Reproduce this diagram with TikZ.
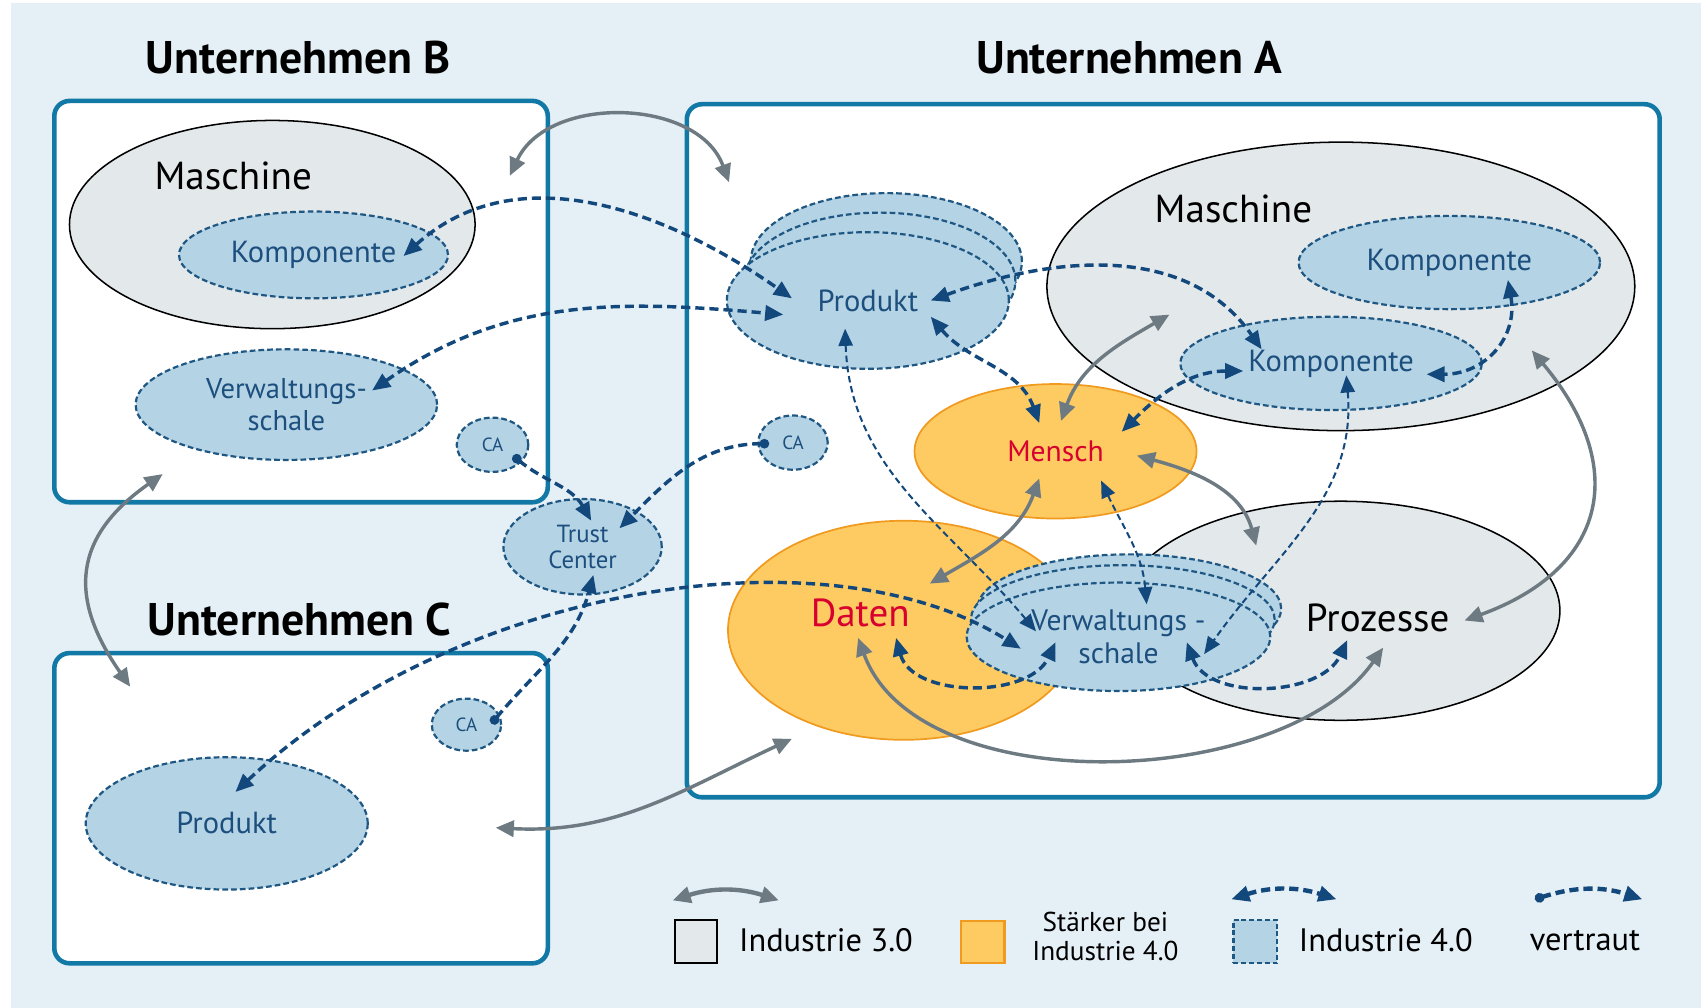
\documentclass[tikz,border=0pt]{standalone}
\usepackage{fontspec}
\setmainfont{PT Sans}
\usetikzlibrary{arrows.meta,shapes.geometric}
\definecolor{bgcol}{HTML}{E4EFF6}
\definecolor{boxcol}{HTML}{1279A6}
\definecolor{grayfill}{HTML}{E3E8EB}
\definecolor{lbfill}{HTML}{B4D3E5}
\definecolor{lbdraw}{HTML}{1F5783}
\definecolor{dbarrow}{HTML}{13487C}
\definecolor{grayarrow}{HTML}{6D7A82}
\definecolor{orangefill}{HTML}{FDCB61}
\definecolor{orangedraw}{HTML}{F09A20}
\definecolor{redtext}{HTML}{D7002F}
\definecolor{bluetext}{HTML}{1C4F7D}
\tikzset{
  comp/.style={draw=boxcol, line width=2.4pt, fill=white, rounded corners=8pt, inner sep=0pt},
  title/.style={font=\fontsize{24}{28}\selectfont\bfseries, text=black, inner sep=0pt},
  indthree/.style={ellipse, draw=black, line width=0.8pt, fill=grayfill, inner sep=0pt},
  indfour/.style={ellipse, draw=lbdraw, line width=1.15pt, dash pattern=on 3pt off 1.6pt, fill=lbfill, inner sep=0pt, text=bluetext, font=\fontsize{16}{18}\selectfont, align=center},
  strong/.style={ellipse, draw=orangedraw, line width=0.9pt, fill=orangefill, inner sep=0pt},
  bigtxt/.style={font=\fontsize{20.5}{24}\selectfont, inner sep=0pt},
  garrow/.style={draw=grayarrow, line width=1.8pt, {Triangle[length=9.5pt,width=8.5pt]}-{Triangle[length=9.5pt,width=8.5pt]}},
  darrow/.style={draw=dbarrow, line width=1.8pt, dash pattern=on 4.8pt off 2.6pt, {Triangle[length=9.5pt,width=8pt]}-{Triangle[length=9.5pt,width=8pt]}},
  thinarrow/.style={draw=dbarrow, line width=1.05pt, dash pattern=on 3.4pt off 2pt, {Triangle[length=9pt,width=7.5pt]}-{Triangle[length=9pt,width=7.5pt]}},
  trustarrow/.style={draw=dbarrow, line width=1.8pt, dash pattern=on 4.8pt off 2.6pt, {Circle[length=5pt]}-{Triangle[length=9.5pt,width=8pt]}},
  legtxt/.style={font=\fontsize{17}{20}\selectfont, inner sep=0pt},
}
\begin{document}
\begin{tikzpicture}[x=0.02cm, y=-0.02cm]
\useasboundingbox (0,0) rectangle (1568,929);
\fill[white] (0,0) rectangle (1568,929);
\fill[bgcol] (10,3) rectangle (1568,929);

% titles
\node[title] (tB) at (275,53) {Unternehmen B};
\node[title] (tA) at (1041,53) {Unternehmen A};
\node[title] (tC) at (276,571) {Unternehmen C};

% company boxes
\node[comp, minimum width=9.1cm, minimum height=7.4cm] (boxB) at (277.5,278) {};
\node[comp, minimum width=17.94cm, minimum height=12.78cm] (boxA) at (1081.5,415.5) {};
\node[comp, minimum width=9.1cm, minimum height=5.72cm] (boxC) at (277.5,745) {};

% company B
\node[indthree, minimum width=7.48cm, minimum height=3.84cm] (maschB) at (251,207) {};
\node[bigtxt] (maschBl) at (215,162) {Maschine};
\node[indfour, minimum width=4.96cm, minimum height=1.6cm] (kompB) at (289,235) {Komponente};
\node[indfour, minimum width=5.56cm, minimum height=2.04cm, font=\fontsize{15}{16.6}\selectfont] (vsB) at (264,373) {Verwaltungs-\\schale};
\node[indfour, minimum width=1.32cm, minimum height=1.0cm, font=\fontsize{10}{12}\selectfont] (caB) at (454,410) {CA};

% trust center
\node[indfour, minimum width=2.92cm, minimum height=1.76cm, font=\fontsize{13}{13.6}\selectfont] (trust) at (537,504) {Trust\\Center};

% company C
\node[indfour, minimum width=5.2cm, minimum height=2.44cm] (prodC) at (209,759) {Produkt};
\node[indfour, minimum width=1.28cm, minimum height=0.96cm, font=\fontsize{10}{12}\selectfont] (caC) at (430,668) {CA};

% company A
\node[indfour, minimum width=1.28cm, minimum height=1.0cm, font=\fontsize{10}{12}\selectfont] (caA) at (731,408) {CA};
\node[indthree, minimum width=10.84cm, minimum height=5.32cm] (maschA) at (1236,264) {};
\node[bigtxt] (maschAl) at (1137,193) {Maschine};
\node[indfour, minimum width=5.56cm, minimum height=1.72cm] (kompA1) at (1336,242) {Komponente};
\node[indfour, minimum width=5.56cm, minimum height=1.72cm] (kompA2) at (1227,335) {Komponente};
\node[indfour, minimum width=5.0cm, minimum height=2.52cm] (prodAb2) at (817,241) {};
\node[indfour, minimum width=5.0cm, minimum height=2.52cm] (prodAb1) at (811,259) {};
\node[indfour, minimum width=5.2cm, minimum height=2.52cm] (prodA) at (800,277) {Produkt};
\node[strong, minimum width=5.2cm, minimum height=2.48cm, text=redtext, font=\fontsize{15.5}{18}\selectfont] (mensch) at (973,416) {Mensch};
\node[strong, minimum width=6.48cm, minimum height=4.04cm] (daten) at (833,581) {};
\node[bigtxt, text=redtext] (datenl) at (793,565) {Daten};
\node[indthree, minimum width=8.08cm, minimum height=4.04cm] (proz) at (1236,563) {};
\node[bigtxt] (prozl) at (1270,570) {Prozesse};
\node[indfour, minimum width=5.6cm, minimum height=2.0cm] (vsAb2) at (1041,561) {};
\node[indfour, minimum width=5.6cm, minimum height=2.0cm] (vsAb1) at (1035,571) {};
\node[indfour, minimum width=5.6cm, minimum height=2.0cm, font=\fontsize{15.5}{17}\selectfont] (vsA) at (1031,587) {Verwaltungs -\\schale};

% Industrie 3.0 relations (grey)
\draw[garrow] ([shift={(192.5,-116)}]boxB.center) to[out=65,in=110,looseness=1.05] ([shift={(-409.5,-247.5)}]boxA.center);
\draw[garrow] ([shift={(-127.5,159)}]boxB.center) to[out=215,in=125,looseness=1.3] ([shift={(-157.5,-112)}]boxC.center);
\draw[garrow] ([shift={(179.5,18)}]boxC.center) to[out=-3,in=205] ([shift={(-351.5,265.5)}]boxA.center);
\draw[garrow] ([shift={(5,-28)}]mensch.center) to[out=70,in=210] ([shift={(-158,26)}]maschA.center);
\draw[garrow] ([shift={(-15,25)}]mensch.center) to[out=-110,in=30] ([shift={(24,-43)}]daten.center);
\draw[garrow] ([shift={(75,4)}]mensch.center) to[out=-15,in=105] ([shift={(-78,-60)}]proz.center);
\draw[garrow] ([shift={(176,59)}]maschA.center) to[out=-50,in=20,looseness=1.4] ([shift={(114,9)}]proz.center);
\draw[garrow] ([shift={(-42,7)}]daten.center) to[out=-70,in=-125,looseness=0.85] ([shift={(39,34)}]proz.center);

% Industrie 4.0 relations (dashed blue)
\draw[darrow] ([shift={(83,1)}]kompB.center) to[out=42,in=145] ([shift={(-70,-2)}]prodA.center);
\draw[darrow] ([shift={(79,-13)}]vsB.center) to[out=35,in=175] ([shift={(-78,13)}]prodA.center);
\draw[darrow] ([shift={(8,-29)}]prodC.center) .. controls +(203,-190) and +(-180,-113) .. ([shift={(-90,11)}]vsA.center);
\draw[darrow] ([shift={(58,0)}]prodA.center) to[out=20,in=125] ([shift={(-64,-13)}]kompA2.center);
\draw[darrow] ([shift={(58,15)}]prodA.center) to[out=-50,in=110] ([shift={(-15,-26)}]mensch.center);
\draw[thinarrow] ([shift={(-21,26)}]prodA.center) to[out=-88,in=130] ([shift={(-76,-5)}]vsA.center);
\draw[darrow] ([shift={(-81,7)}]kompA2.center) to[out=180,in=45] ([shift={(61,-18)}]mensch.center);
\draw[darrow] ([shift={(54,16)}]kompA1.center) to[out=-80,in=0,looseness=1.2] ([shift={(88,10)}]kompA2.center);
\draw[thinarrow] ([shift={(14,11)}]kompA2.center) to[out=-85,in=55] ([shift={(79,16)}]vsA.center);
\draw[thinarrow] ([shift={(42,27)}]mensch.center) to[out=-65,in=95] ([shift={(26,-30)}]vsA.center);
\draw[darrow] ([shift={(-7,7)}]daten.center) to[out=-75,in=-115] ([shift={(-58,5)}]vsA.center);
\draw[darrow] ([shift={(63,5)}]vsA.center) to[out=-70,in=-115] ([shift={(6,27)}]proz.center);

% trust relations
\draw[trustarrow] ([shift={(19,10)}]caB.center) to[out=-40,in=120] ([shift={(8,-24)}]trust.center);
\draw[trustarrow] ([shift={(-22,1)}]caA.center) to[out=180,in=45] ([shift={(34,-17)}]trust.center);
\draw[trustarrow] ([shift={(23,-1)}]caC.center) to[out=50,in=-105] ([shift={(10,26)}]trust.center);

% legend
\coordinate (l1a) at (620,830);
\coordinate (l1b) at (718,830);
\draw[garrow, line width=2.3pt] (l1a) to[bend left=18] (l1b);
\node[draw=black, line width=1.2pt, fill=grayfill, minimum width=0.78cm, minimum height=0.8cm, inner sep=0pt] (sq1) at (641.5,868) {};
\node[legtxt, anchor=west] (t1) at (681,867) {Industrie 3.0};
\node[draw=orangedraw, line width=1.2pt, fill=orangefill, minimum width=0.8cm, minimum height=0.78cm, inner sep=0pt] (sq2) at (906,868.5) {};
\node[font=\fontsize{14.3}{15.3}\selectfont, align=center, inner sep=0pt] (t2) at (1019,863) {Stärker bei\\Industrie 4.0};
\coordinate (l3a) at (1135,829);
\coordinate (l3b) at (1232,829);
\draw[darrow, line width=2.3pt] (l3a) to[bend left=18] (l3b);
\node[draw=lbdraw, line width=1.1pt, dash pattern=on 2.6pt off 1.5pt, fill=lbfill, minimum width=0.8cm, minimum height=0.8cm, inner sep=0pt] (sq3) at (1157,868) {};
\node[legtxt, anchor=west] (t3) at (1197,867) {Industrie 4.0};
\coordinate (l4a) at (1415,829);
\coordinate (l4b) at (1514,829);
\draw[trustarrow, line width=2.3pt] (l4a) to[bend left=18] (l4b);
\node[legtxt] (t4) at (1461,867) {vertraut};
\end{tikzpicture}
\end{document}
